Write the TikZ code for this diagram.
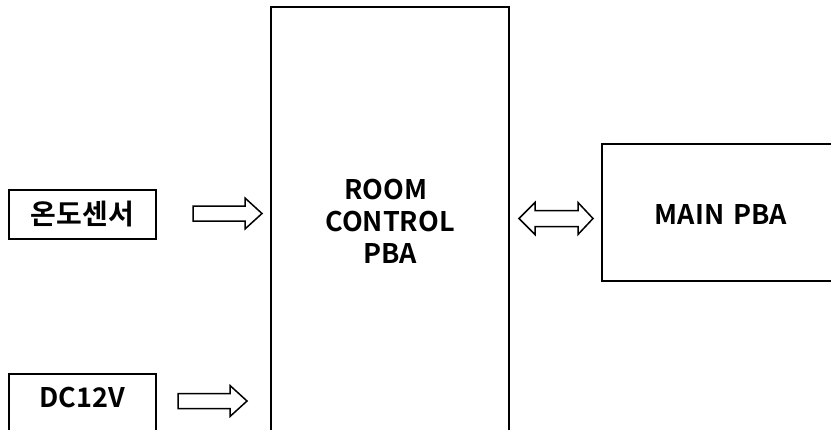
\documentclass[tikz,border=0pt]{standalone}
\usepackage{fontspec}
\setmainfont{Noto Sans CJK KR}[BoldFont={Noto Sans CJK KR Bold}]
\begin{document}
\begin{tikzpicture}[x=1pt,y=-1pt,
  box/.style={draw=black,line width=2pt,fill=white,inner sep=0pt},
  lbl/.style={font=\bfseries\fontsize{27}{32}\selectfont,text=black,inner sep=0pt,align=center},
  blockarrow/.style={draw=black,line width=1.5pt,fill=white,line join=miter}]
\useasboundingbox (0,0) rectangle (831,429);
\clip (0,0) rectangle (831,429);
% boxes
\node[box,minimum width=238pt,minimum height=473pt] (room) at (390,243.5) {};
\node[box,minimum width=260pt,minimum height=137pt] (main) at (732,212.5) {};
\node[box,minimum width=147pt,minimum height=49pt] (temp) at (82.5,214.5) {};
\node[box,minimum width=147pt,minimum height=80pt] (dc) at (82.5,414) {};
% labels
\node[lbl] (roomtxt) at (390,221) {ROOM\hspace*{8pt}\\CONTROL\\PBA};
\node[lbl] (maintxt) at (721,214) {MAIN\hspace{3pt} PBA};
\node[lbl,font=\bfseries\fontsize{28}{32}\selectfont] (temptxt) at (82.5,214) {온도센서};
\node[lbl] (dctxt) at (82.5,398) {DC12V};
% arrows
\coordinate (a1) at (193,213.5);
\draw[blockarrow] (a1) ++(0,-7.5) -- ++(52,0) -- ++(0,-8) -- ++(17,15.5) -- ++(-17,15.5) -- ++(0,-8) -- ++(-52,0) -- cycle;
\coordinate (a2) at (178,401);
\draw[blockarrow] (a2) ++(0,-7.5) -- ++(52,0) -- ++(0,-8) -- ++(17,15.5) -- ++(-17,15.5) -- ++(0,-8) -- ++(-52,0) -- cycle;
\coordinate (a3) at (519,218.5);
\draw[blockarrow] (a3) -- ++(16,-16) -- ++(0,8) -- ++(43,0) -- ++(0,-8) -- ++(15,16) -- ++(-15,16) -- ++(0,-8) -- ++(-43,0) -- ++(0,8) -- cycle;
\end{tikzpicture}
\end{document}
